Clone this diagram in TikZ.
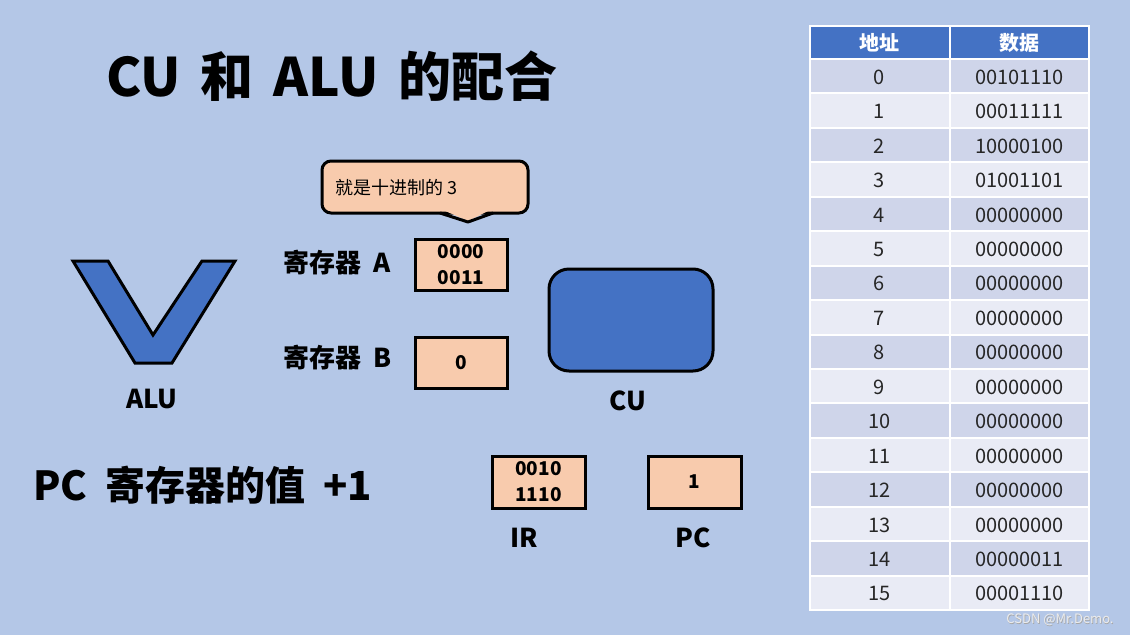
\documentclass[tikz,border=0pt]{standalone}
\usepackage{fontspec}
\setmainfont{Noto Sans CJK SC}
\definecolor{bg}{HTML}{B4C7E7}
\definecolor{blue1}{HTML}{4472C4}
\definecolor{peach}{HTML}{F8CBAD}
\definecolor{rowA}{HTML}{CFD5EA}
\definecolor{rowB}{HTML}{E9EBF5}
\begin{document}
\begin{tikzpicture}[x=1pt,y=-1pt,
  regbox/.style={draw=black,line width=3pt,fill=peach},
  regtext/.style={font=\fontsize{19}{26}\selectfont\bfseries,align=center,inner sep=0pt},
  lbl/.style={font=\fontsize{26}{28}\selectfont\bfseries,inner sep=0pt},
  celltext/.style={font=\fontsize{20}{22}\selectfont,text=black!85,inner sep=0pt},
  headtext/.style={font=\fontsize{20}{22}\selectfont\bfseries,text=white,inner sep=0pt}]
\fill[bg] (0,0) rectangle (1130,635);
\useasboundingbox (0,0) rectangle (1130,635);

% title
\node[font=\fontsize{53}{56}\selectfont\bfseries,anchor=west,inner sep=0pt] (title) at (106,76) {CU\hspace{20pt}和\hspace{20pt}ALU\hspace{20pt}的配合};

% callout
\draw[regbox,rounded corners=9pt] (322,161) rectangle (528,213);
\fill[peach] (443,210) -- (468,221) -- (490,210) -- cycle;
\draw[line width=3pt,line join=round] (440,213) -- (468,222) -- (493,213);
\node[font=\fontsize{18}{20}\selectfont,anchor=west,inner sep=0pt] (note) at (335,188) {就是十进制的 3};

% ALU shape
\draw[fill=blue1,line width=3pt,line join=miter] (73,261) -- (108,261) -- (153,335) -- (202,261) -- (235,261) -- (172,363) -- (135,363) -- cycle;
\node[lbl] (alulbl) at (152,399) {ALU};

% registers A, B
\node[lbl,anchor=west] (rA) at (283,263) {寄存器\hspace{12pt}A};
\draw[regbox] (415,239) rectangle (507,290);
\node[regtext] (vA) at (461,265) {0000\\0011};
\node[lbl,anchor=west] (rB) at (283,358) {寄存器\hspace{12pt}B};
\draw[regbox] (415,337) rectangle (507,388);
\node[regtext] (vB) at (461,363) {0};

% CU
\draw[fill=blue1,line width=3pt,rounded corners=20pt] (549,269) rectangle (713,371);
\node[lbl] (culbl) at (628,401) {CU};

% PC text
\node[font=\fontsize{40}{42}\selectfont\bfseries,anchor=west,inner sep=0pt] (pcinc) at (33,485) {PC\hspace{18pt}寄存器的值\hspace{18pt}+1};

% IR and PC
\draw[regbox] (492,456) rectangle (585,508);
\node[regtext] (vIR) at (538.5,482) {0010\\1110};
\node[lbl] (irlbl) at (524,538) {IR};
\draw[regbox] (648,456) rectangle (741,508);
\node[regtext] (vPC) at (694.5,482) {1};
\node[lbl] (pclbl) at (693,538) {PC};

% table
\fill[blue1] (810,26) rectangle (1089,59);
\node[headtext] (h1) at (879.5,43) {地址};
\node[headtext] (h2) at (1019,43) {数据};
\foreach \i/\d in {0/00101110,1/00011111,2/10000100,3/01001101,4/00000000,5/00000000,6/00000000,7/00000000,8/00000000,9/00000000,10/00000000,11/00000000,12/00000000,13/00000000,14/00000011,15/00001110}{
  \pgfmathsetmacro{\ytop}{60+34.44*\i}
  \pgfmathsetmacro{\ymid}{\ytop+17.2}
  \pgfmathtruncatemacro{\odd}{mod(\i,2)}
  \ifnum\odd=0 \fill[rowA] (810,\ytop) rectangle (1089,\ytop+34.44);
  \else \fill[rowB] (810,\ytop) rectangle (1089,\ytop+34.44); \fi
  \node[celltext] (a\i) at (879.5,\ymid) {\i};
  \node[celltext] (d\i) at (1019.5,\ymid) {\d};
}
\foreach \i in {0,...,16}{
  \draw[white,line width=2pt] (810,59+34.44*\i) -- (1089,59+34.44*\i);
}
\draw[white,line width=2pt] (810,26) rectangle (1089,610);
\draw[white,line width=2pt] (949.5,26) -- (949.5,610);

% watermark
\node[font=\fontsize{13}{14}\selectfont,text=gray!70,inner sep=0pt] (wmshadow) at (1060.7,620.7) {CSDN @Mr.Demo.};
\node[font=\fontsize{13}{14}\selectfont,text=gray!15,inner sep=0pt] (wm) at (1060,620) {CSDN @Mr.Demo.};
\end{tikzpicture}
\end{document}
